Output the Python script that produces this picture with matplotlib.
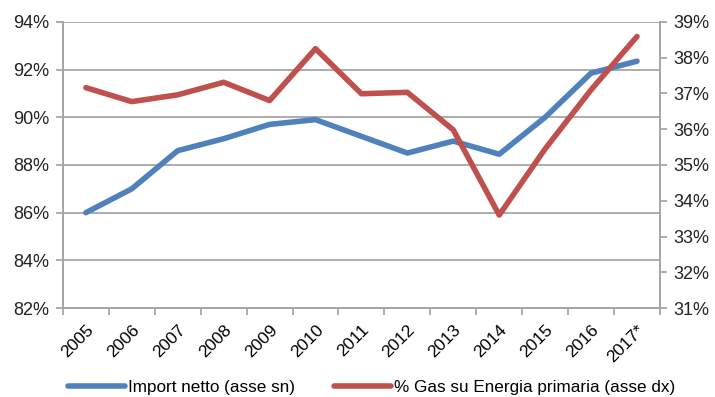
import matplotlib.pyplot as plt
import numpy as np
from matplotlib.ticker import FixedLocator, FuncFormatter

plt.rcParams['font.family'] = ['Liberation Sans', 'DejaVu Sans']

# Years on the x axis (2017 is an estimate)
years = ['2005', '2006', '2007', '2008', '2009', '2010', '2011',
         '2012', '2013', '2014', '2015', '2016', '2017*']

# Net import share, left axis (%)
import_netto = [86.0, 87.0, 88.6, 89.1, 89.7, 89.9, 89.2,
                88.5, 89.0, 88.45, 90.0, 91.85, 92.35]

# Gas share of primary energy, right axis (%)
gas_energia = [37.16, 36.77, 36.96, 37.31, 36.8, 38.25, 36.99,
               37.03, 35.98, 33.6, 35.45, 37.1, 38.59]

blue = '#4F81BD'
red = '#C0504D'
grey = '#A6A6A6'

fig = plt.figure(figsize=(7.15, 3.97), dpi=100)
ax = fig.add_axes([0.088, 0.224, 0.835, 0.721])
ax2 = ax.twinx()

x = np.arange(len(years))
ax.plot(x, import_netto, color=blue, linewidth=4, solid_capstyle='round',
        label='Import netto (asse sn)', zorder=3)
ax2.plot(x, gas_energia, color=red, linewidth=4, solid_capstyle='round',
         label='% Gas su Energia primaria (asse dx)', zorder=3)

# left axis 82-94 with gridlines every 2 points
ax.set_ylim(82, 94)
ax.set_yticks(np.arange(82, 95, 2))
ax.yaxis.set_major_formatter(FuncFormatter(lambda v, p: f'{v:.0f}%'))
ax.grid(True, axis='y', color=grey, linewidth=1.3)
ax.set_axisbelow(True)

# right axis 31-39
ax2.set_ylim(31, 39)
ax2.set_yticks(np.arange(31, 40, 1))
ax2.yaxis.set_major_formatter(FuncFormatter(lambda v, p: f'{v:.0f}%'))

# category axis: tick marks between years, labels at year centres
ax.set_xlim(-0.5, len(years) - 0.5)
ax.xaxis.set_major_locator(FixedLocator(np.arange(-0.5, len(years), 1.0)))
ax.xaxis.set_minor_locator(FixedLocator(x))
ax.set_xticklabels([])
ax.set_xticklabels(years, minor=True, rotation=45, ha='right',
                   rotation_mode='anchor', fontsize=12.5)
ax.tick_params(axis='x', which='major', length=5, width=1.3, color=grey,
               direction='out')
ax.tick_params(axis='x', which='minor', length=0, pad=10)

ax.tick_params(axis='y', length=5, width=1.3, color=grey, labelsize=13,
               labelcolor='#222222', pad=5)
ax2.tick_params(axis='y', length=5, width=1.3, color=grey, labelsize=13,
                labelcolor='#222222', pad=5)

for a in (ax, ax2):
    a.spines['top'].set_visible(False)
    for side in ('left', 'right', 'bottom'):
        a.spines[side].set_color(grey)
        a.spines[side].set_linewidth(1.3)

handles = ax.get_lines() + ax2.get_lines()
fig.legend(handles, [h.get_label() for h in handles], loc='center',
           bbox_to_anchor=(0.52, 0.025), ncol=2, frameon=False, fontsize=12.3,
           handlelength=3.3, handletextpad=0.2, columnspacing=2.3)

fig.savefig('out.png', dpi=100)
